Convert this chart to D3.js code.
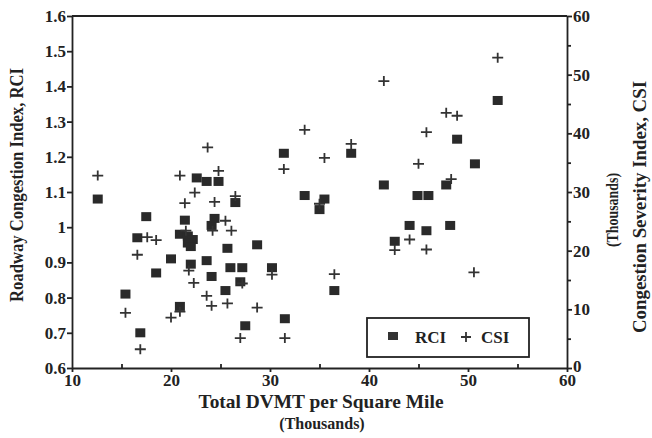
<!DOCTYPE html>
<html>
<head>
<meta charset="utf-8">
<script src="https://cdn.jsdelivr.net/npm/d3@7"></script>
<style>
  body { margin: 0; background: #fff; }
  text { font-family: 'Liberation Serif', 'Times New Roman', serif; font-weight: bold; fill: #222; }
</style>
</head>
<body>
<div id="chart"></div>
<script>
// RCI points: DVMT (thousands) and index
const rciX = [12.6, 15.4, 16.9, 16.6, 17.5, 18.5, 20.0, 20.9, 20.9, 21.4, 21.7, 22.2, 21.7, 22.0, 22.0, 22.6, 23.6, 24.8, 23.6, 24.1, 24.1, 24.4, 25.7, 26.0, 27.2, 27.0, 25.5, 27.5, 26.5, 28.7, 30.2, 31.4, 31.5, 33.5, 35.5, 35.0, 36.5, 38.2, 41.5, 42.6, 44.1, 44.9, 46.0, 45.8, 47.8, 48.2, 48.9, 50.7, 53.0]
const rciY = [1.08, 0.81, 0.70, 0.97, 1.03, 0.87, 0.91, 0.775, 0.98, 1.02, 0.975, 0.965, 0.955, 0.945, 0.895, 1.14, 1.13, 1.13, 0.905, 0.86, 1.005, 1.025, 0.94, 0.885, 0.885, 0.845, 0.82, 0.72, 1.07, 0.95, 0.885, 1.21, 0.74, 1.09, 1.08, 1.05, 0.82, 1.21, 1.12, 0.96, 1.005, 1.09, 1.09, 0.99, 1.12, 1.005, 1.25, 1.18, 1.36]
// CSI points: DVMT (thousands) and severity (thousands)
const csiX = [12.6, 15.4, 16.9, 16.6, 17.6, 18.5, 20.0, 20.9, 20.9, 21.4, 21.5, 21.8, 22.3, 22.4, 23.7, 24.8, 23.6, 24.1, 24.4, 24.2, 25.5, 26.1, 25.7, 27.2, 27.0, 26.5, 28.7, 30.2, 31.4, 31.5, 33.5, 35.5, 35.0, 36.5, 38.2, 41.5, 42.6, 44.1, 45.0, 45.8, 45.8, 47.8, 48.9, 48.3, 50.6, 53.0]
const csiY = [32.8, 9.4, 3.2, 19.3, 22.3, 21.8, 8.6, 9.6, 32.8, 28.1, 23.4, 16.6, 14.5, 29.9, 37.6, 33.6, 12.3, 10.6, 28.3, 23.4, 25.1, 23.4, 11.0, 14.4, 5.1, 29.3, 10.3, 15.9, 33.9, 5.1, 40.6, 35.8, 28.0, 16.0, 38.2, 48.9, 20.1, 21.9, 34.8, 40.2, 20.2, 43.5, 43.0, 32.2, 16.3, 52.9]

const xTicks = [10, 20, 30, 40, 50, 60]
const rciTicks = [0.6, 0.7, 0.8, 0.9, 1.0, 1.1, 1.2, 1.3, 1.4, 1.5, 1.6]
const csiTicks = [0, 10, 20, 30, 40, 50, 60]

const width = 652, height = 438
const margin = { top: 16, right: 85, bottom: 70, left: 72 }
const ink = '#222'

const svg = d3.select('#chart').append('svg').attr('width', width).attr('height', height)

const x = d3.scaleLinear().domain([10, 60]).range([margin.left, width - margin.right])
const yL = d3.scaleLinear().domain([0.6, 1.6]).range([height - margin.bottom, margin.top])
const yR = d3.scaleLinear().domain([0, 60]).range([height - margin.bottom, margin.top])

const fmtL = d => (d === 1 ? '1' : d3.format('.1f')(d))

// minor ticks
svg.append('g')
  .attr('transform', `translate(0,${height - margin.bottom})`)
  .call(d3.axisTop(x).tickValues([15, 25, 35, 45, 55]).tickSize(4).tickFormat(''))
  .call(g => g.select('.domain').remove())
svg.append('g')
  .attr('transform', `translate(${width - margin.right},0)`)
  .call(d3.axisRight(yR).tickValues([5, 15, 25, 35, 45, 55]).tickSize(4).tickFormat(''))
  .call(g => g.select('.domain').remove())

// x axis
svg.append('g')
  .attr('transform', `translate(0,${height - margin.bottom})`)
  .call(d3.axisBottom(x).tickValues(xTicks).tickSize(4).tickSizeOuter(0).tickPadding(2))
  .call(g => g.selectAll('text').attr('font-size', 17))

// left axis
svg.append('g')
  .attr('transform', `translate(${margin.left},0)`)
  .call(d3.axisLeft(yL).tickValues(rciTicks).tickFormat(fmtL).tickSize(5).tickSizeOuter(0).tickPadding(1))
  .call(g => g.selectAll('text').attr('font-size', 17))

// right axis
svg.append('g')
  .attr('transform', `translate(${width - margin.right},0)`)
  .call(d3.axisRight(yR).tickValues(csiTicks).tickSize(5).tickSizeOuter(0).tickPadding(1))
  .call(g => g.selectAll('text').attr('font-size', 17))
  .call(g => g.selectAll('.tick text').filter(d => d === 0).attr('dy', '0.2em'))

// top border
svg.append('line')
  .attr('x1', margin.left).attr('x2', width - margin.right)
  .attr('y1', margin.top).attr('y2', margin.top)

svg.selectAll('.domain, .tick line, line').attr('stroke', ink).attr('stroke-width', 1.8)

// RCI squares
svg.append('g')
  .selectAll('rect')
  .data(rciX.map((v, i) => [v, rciY[i]]))
  .join('rect')
  .attr('x', d => x(d[0]) - 5)
  .attr('y', d => yL(d[1]) - 4.5)
  .attr('width', 10)
  .attr('height', 9)
  .attr('fill', '#2a2a2a')

// CSI plus markers
svg.append('g')
  .selectAll('path')
  .data(csiX.map((v, i) => [v, csiY[i]]))
  .join('path')
  .attr('transform', d => `translate(${x(d[0])},${yR(d[1])})`)
  .attr('d', 'M-5.5,0H5.5M0,-5V5')
  .attr('stroke', '#333')
  .attr('stroke-width', 1.8)
  .attr('fill', 'none')

// legend
const lg = svg.append('g')
lg.append('rect')
  .attr('x', 367).attr('y', 318).attr('width', 162).attr('height', 39)
  .attr('fill', '#fff').attr('stroke', ink).attr('stroke-width', 1.8)
lg.append('rect').attr('x', 388).attr('y', 332).attr('width', 10).attr('height', 8).attr('fill', '#333')
lg.append('text').attr('x', 415).attr('y', 343).attr('font-size', 17).text('RCI')
lg.append('path').attr('transform', 'translate(466,337)').attr('d', 'M-5,0H5M0,-5V5')
  .attr('stroke', '#333').attr('stroke-width', 1.8)
lg.append('text').attr('x', 481).attr('y', 343).attr('font-size', 17).text('CSI')

// axis titles
svg.append('text')
  .attr('x', 321).attr('y', 408).attr('text-anchor', 'middle').attr('font-size', 19)
  .attr('textLength', 245).attr('lengthAdjust', 'spacingAndGlyphs')
  .text('Total DVMT per Square Mile')
svg.append('text')
  .attr('x', 322).attr('y', 429).attr('text-anchor', 'middle').attr('font-size', 16)
  .text('(Thousands)')
svg.append('text')
  .attr('transform', 'translate(23,185) rotate(-90)').attr('text-anchor', 'middle').attr('font-size', 18)
  .attr('textLength', 234).attr('lengthAdjust', 'spacingAndGlyphs')
  .text('Roadway Congestion Index, RCI')
svg.append('text')
  .attr('transform', 'translate(646,207) rotate(-90)').attr('text-anchor', 'middle').attr('font-size', 18)
  .attr('textLength', 252).attr('lengthAdjust', 'spacingAndGlyphs')
  .text('Congestion Severity Index, CSI')
svg.append('text')
  .attr('transform', 'translate(618,210) rotate(-90)').attr('text-anchor', 'middle').attr('font-size', 16)
  .attr('textLength', 74).attr('lengthAdjust', 'spacingAndGlyphs')
  .text('(Thousands)')
</script>
</body>
</html>
